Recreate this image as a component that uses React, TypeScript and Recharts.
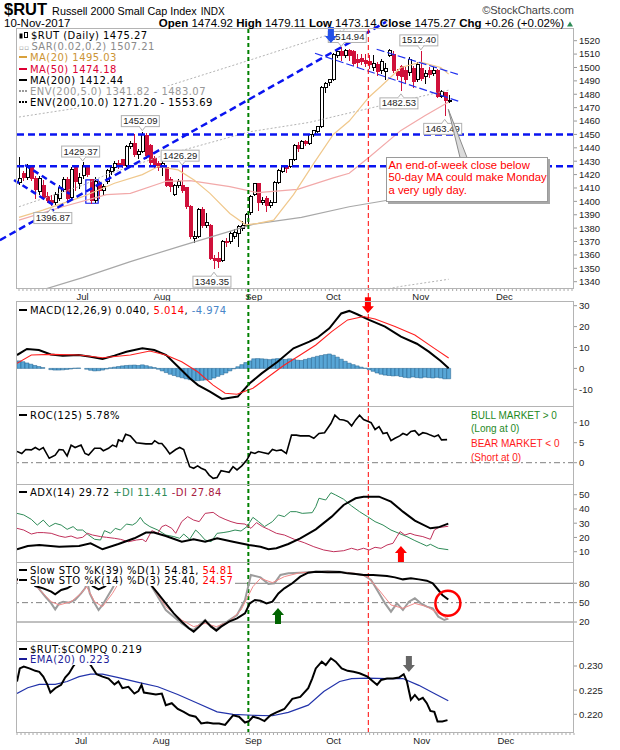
import React from 'react';
import {
  ComposedChart, Bar, Line, XAxis, YAxis,
  ReferenceLine, ReferenceDot, ReferenceArea,
} from 'recharts';

// bar index 0 = 3-Jul-2017; candles run from 9-Jun (-16) to 10-Nov (92),
// the axis keeps going into December
const FIRST_BAR = -16;
const LAST_SLOT = 123;
const monthStarts = [0, 20, 43, 63, 85, 106];
const monthNames = ['Jul', 'Aug', 'Sep', 'Oct', 'Nov', 'Dec'];

const opens = [
  1414, 1421, 1418, 1425, 1417, 1407, 1412, 1404, 1401, 1399,
  1402, 1409, 1416, 1403, 1425, 1413, 1419, 1426, 1416, 1401,
  1413, 1408, 1415, 1422, 1425, 1428, 1431, 1427, 1441, 1443,
  1435, 1437, 1449, 1442, 1432, 1428, 1425.5, 1425, 1416, 1405,
  1412, 1412, 1410, 1396, 1372, 1374, 1394, 1382, 1382, 1357,
  1357, 1356, 1370, 1370, 1374, 1376, 1380, 1382, 1392, 1405,
  1413, 1399.5, 1402, 1397, 1399, 1414, 1422, 1426, 1426, 1431,
  1441.4, 1439.6, 1444.6, 1443, 1449.6, 1452, 1455.8, 1485, 1488.5, 1490.7,
  1509.3, 1512, 1509.3, 1513, 1511.8, 1506, 1506.8, 1505, 1504.4, 1500,
  1502, 1498, 1497, 1509.3, 1510, 1497, 1500.6, 1498, 1496, 1499.4,
  1491, 1499.4, 1493, 1498, 1495.6, 1498, 1478.2, 1481.2, 1474.92,
];
const highs = [
  1433, 1423, 1428, 1427, 1419, 1419, 1416, 1407, 1405, 1407,
  1412, 1418, 1418, 1426, 1427, 1421, 1429.37, 1427, 1417, 1418,
  1415, 1413, 1424, 1427, 1430, 1431, 1432, 1442, 1445, 1450,
  1439, 1452.09, 1451, 1443, 1434, 1430, 1430, 1427, 1418, 1413,
  1417, 1426.29, 1411, 1397, 1378, 1395, 1396, 1391, 1383, 1360,
  1362, 1371, 1373, 1378, 1379, 1382, 1385, 1391, 1405, 1414,
  1414, 1403, 1404, 1401, 1415, 1424, 1427, 1427, 1432, 1443,
  1444, 1446, 1446, 1450, 1453, 1456.5, 1486, 1489, 1491, 1511,
  1512.5, 1514.94, 1514, 1514, 1513, 1510, 1510, 1510, 1509, 1509,
  1504, 1506, 1503, 1514, 1512, 1499, 1502, 1500, 1508, 1501,
  1504, 1512.4, 1498, 1500, 1500, 1499, 1483, 1482, 1479.11,
];
const lows = [
  1412, 1415, 1416, 1415, 1402, 1405, 1401, 1399, 1396.87, 1397,
  1400, 1407, 1400, 1402, 1408, 1409, 1417, 1418, 1398, 1399,
  1402, 1404, 1413, 1420, 1423, 1424, 1425, 1426, 1439, 1433,
  1432, 1436, 1432, 1427, 1425, 1423, 1419, 1411, 1407, 1404,
  1410, 1406, 1394, 1372, 1369, 1373, 1380, 1380, 1356, 1349.35,
  1350, 1355, 1366, 1368, 1372, 1366, 1378, 1381, 1390, 1404,
  1393, 1397, 1392, 1395, 1399, 1413, 1421, 1421, 1425, 1430,
  1437, 1439, 1441, 1442, 1448, 1451, 1455, 1481, 1486, 1490,
  1507, 1505, 1507, 1505, 1501, 1500, 1502, 1500, 1499, 1497,
  1494, 1495, 1491, 1508, 1496, 1491, 1482.53, 1488, 1494, 1485,
  1489, 1490, 1488, 1492, 1494, 1477, 1477, 1463.49, 1473.14,
];
const closes = [
  1417, 1418, 1425, 1417, 1409, 1417, 1403, 1401, 1399, 1405,
  1410, 1416, 1402, 1424, 1415, 1418, 1427, 1420, 1401, 1415,
  1408, 1411, 1423, 1425, 1428, 1426, 1427, 1441, 1443.5, 1435,
  1437, 1450, 1434, 1429, 1427, 1425, 1428, 1412, 1411, 1412,
  1415, 1408, 1396, 1374, 1374, 1394, 1382, 1384, 1357, 1356,
  1355, 1370, 1369, 1376, 1377, 1381, 1382, 1390, 1404, 1413,
  1399, 1401, 1397, 1399, 1414, 1423, 1426, 1424.5, 1431, 1442,
  1439.4, 1445, 1443, 1449.6, 1452.6, 1455.8, 1485, 1488, 1490.7, 1510,
  1511.8, 1509, 1512.6, 1509, 1503, 1504, 1504.4, 1503, 1501.9, 1503,
  1497, 1504.4, 1499.4, 1512.6, 1498, 1494, 1493, 1491, 1506, 1489.4,
  1502, 1492, 1495.6, 1494.4, 1498, 1478.2, 1482, 1475.01, 1475.27,
];
const macdHist = [
  3.6, 3.2, 2.6, 2.0, 1.4, 0.9, 0.4, 0.0, -0.6, -0.8,
  -0.8, -0.7, -0.5, -0.3, 0.1, 0.2, 0.0, -0.4, -0.9, -1.2,
  -1.1, -0.8, -0.3, 0.3, 0.6, 0.9, 1.2, 1.4, 1.5, 1.6,
  1.4, 1.7, 1.3, 0.8, 0.4, -0.4, -1.2, -2.0, -2.8, -3.4,
  -4.0, -4.5, -5.0, -5.4, -5.8, -5.9, -5.7, -5.5, -5.3, -4.6,
  -3.8, -3.0, -2.2, -1.2, -0.2, 0.8, 1.8, 2.8, 3.6, 4.6,
  4.7, 4.6, 4.4, 4.2, 4.5, 4.7, 4.4, 4.3, 4.6, 4.4,
  3.9, 3.8, 4.3, 4.8, 5.3, 5.8, 6.2, 6.6, 6.9, 6.3,
  5.4, 4.4, 3.4, 2.5, 1.8, 1.2, 0.6, 0.1, -0.6, -1.4,
  -2.2, -2.8, -3.2, -3.4, -3.6, -3.5, -3.9, -4.3, -4.5, -4.1,
  -4.4, -4.6, -4.2, -4.4, -4.6, -4.3, -4.6, -5.0, -4.974,
];

// overlays, as [bar, value]
const ma20 = [[-16, 1388], [-10, 1393.5], [0, 1403.5], [8, 1413.5], [15, 1420], [19, 1426], [24, 1423.5], [28, 1416], [32, 1406], [37, 1391], [41, 1382.5], [44, 1383.5], [48, 1386], [53, 1405], [58, 1428], [63, 1450], [67, 1460], [72, 1478], [75, 1486], [80, 1500], [85, 1504], [90, 1500], [92, 1495.03]];
const ma50 = [[-16, 1386], [-5, 1396], [6, 1405], [12, 1406], [21, 1415], [27, 1415.5], [37, 1411], [44, 1406.5], [54, 1409], [63, 1417.5], [67, 1421], [72, 1433], [80, 1453], [86, 1464], [92, 1474.18]];
const ma200 = [[-16, 1327], [-10, 1334], [0, 1343], [12, 1355], [25, 1367], [43, 1383], [55, 1388], [67, 1396], [77, 1401], [92, 1412.44]];
const env5Upper = [[-16, 1396], [0, 1412], [6, 1420], [20, 1434], [42, 1452], [57, 1459], [67, 1466], [80, 1475], [92, 1483.07]];
const env5Lower = [[70, 1331], [80, 1336.5], [92, 1341.82]];
const env10Upper = [[-16, 1463], [6, 1473], [18, 1483], [42, 1505.5], [66, 1528.4], [72, 1534]];
const sarLast = 1507.21;
const env10LowerLast = 1271.2;
const env10UpperLast = 1553.69;

const macdLine = [[-16.5, 6.4], [-14, 9.3], [-11, 8.8], [-8, 6.7], [-5, 6.1], [-1, 6.4], [2, 5.6], [5, 4.5], [8, 6.1], [11, 8.0], [15, 9.6], [18, 8.8], [21, 6.4], [24, 0.8], [27, -4.8], [29, -8.0], [32, -11.1], [35, -14.6], [39, -13.5], [42, -7.1], [45, -2.4], [49, 3.2], [53, 9.6], [57, 12.8], [59, 14.7], [62, 19.2], [65, 26.3], [67, 27.5], [69, 25.9], [72, 23.2], [76, 20.0], [80, 15.2], [84, 11.8], [87, 8.0], [90, 3.5], [92, 0.04]];
const macdSignal = [[-16.5, 2.4], [-12.9, 6.4], [-7.9, 6.7], [-0.9, 6.4], [5.0, 5.1], [12.0, 6.4], [16.9, 8.3], [20.9, 6.4], [24.9, 3.2], [28.9, -1.6], [32.8, -8.0], [35.8, -11.9], [38.8, -12.4], [42.8, -9.5], [46.7, -4.0], [50.7, 1.6], [54.7, 6.4], [58.6, 11.2], [62.6, 17.6], [66.6, 23.2], [70.6, 24.8], [73.5, 23.6], [78.5, 20.0], [83.5, 16.0], [88.4, 9.6], [92, 5.014]];

const roc = [[-16.5, 2.8], [-15.3, 2.3], [-14.3, 3.3], [-12.9, 3.2], [-11.9, 3.8], [-10.9, 3.2], [-9.9, 3.8], [-8.4, 1.1], [-6.9, 1.9], [-5.9, 3.3], [-4.9, 3.2], [-3.9, 1.7], [-2.9, 4.4], [-1.9, 3.8], [-0.4, 4.4], [0.6, 2.3], [1.5, 1.9], [3.0, 3.6], [4.5, 3.6], [5.2, 3.0], [6.5, 3.6], [7.5, 4.4], [8.5, 4.0], [9.0, 5.7], [10.0, 5.3], [10.8, 7.1], [12.0, 6.7], [13.5, 5.0], [15.9, 4.7], [17.4, 4.7], [18.1, 5.5], [19.1, 4.8], [19.9, 4.8], [20.9, 3.6], [21.9, 2.2], [23.4, 3.3], [24.4, 3.8], [25.4, 3.3], [26.9, -1.0], [27.9, -1.4], [28.9, -0.8], [29.8, -1.4], [30.8, -1.8], [31.8, -3.1], [32.8, -3.9], [33.8, -3.7], [34.8, -2.0], [35.8, -2.2], [36.8, -2.4], [37.8, -1.0], [38.8, -1.8], [40.0, -0.8], [41.3, 0.7], [42.3, 2.6], [43.3, 2.3], [44.2, 2.8], [45.5, 2.5], [46.7, 2.2], [47.7, 3.3], [48.7, 3.0], [49.9, 3.2], [51.2, 2.3], [52.5, 6.9], [53.7, 6.9], [54.7, 6.7], [55.9, 6.7], [56.9, 6.7], [58.1, 6.1], [59.4, 7.3], [60.8, 7.5], [62.4, 9.8], [63.4, 11.9], [64.6, 10.8], [65.6, 10.7], [66.6, 10.3], [67.6, 9.2], [68.6, 10.7], [69.6, 11.9], [70.6, 10.8], [71.8, 10.3], [72.5, 10.0], [73.5, 8.3], [74.5, 9.0], [75.5, 7.3], [76.5, 7.5], [77.5, 5.5], [78.5, 6.1], [79.7, 6.7], [80.5, 7.3], [81.5, 6.9], [82.5, 7.8], [83.5, 8.0], [84.5, 6.9], [85.5, 7.5], [86.5, 7.3], [87.4, 6.9], [88.4, 6.5], [89.4, 6.9], [90.2, 5.7], [91.6, 5.78]];

const adx = [[-16.5, 11.7], [-13.8, 14.0], [-10.9, 14.7], [-5.9, 13.5], [-0.9, 14.0], [2.0, 15.9], [5.0, 11.7], [9.0, 15.4], [13.0, 19.4], [15.9, 23.4], [17.9, 23.4], [20.9, 21.0], [24.9, 17.0], [27.9, 18.7], [30.8, 17.0], [33.8, 19.4], [37.8, 17.0], [41.8, 14.7], [44.7, 13.5], [46.7, 11.7], [48.7, 12.4], [51.7, 15.4], [54.7, 19.4], [58.6, 25.7], [62.6, 34.6], [65.6, 42.8], [68.6, 47.5], [70.6, 48.6], [74.5, 48.6], [77.5, 45.1], [80.5, 38.1], [83.5, 31.8], [87.4, 26.4], [89.4, 27.1], [91.9, 29.72]];
const plusDI = [[-16.5, 36.9], [-14.8, 35.8], [-12.9, 32.7], [-11.4, 28.7], [-9.9, 32.2], [-8.4, 27.6], [-6.9, 29.9], [-5.4, 28.7], [-3.9, 25.7], [-2.4, 27.6], [-1.4, 25.2], [0.0, 25.2], [1.5, 21.7], [3.0, 18.7], [4.5, 18.2], [5.5, 24.8], [7.0, 22.9], [8.2, 26.4], [9.5, 25.2], [11.0, 29.4], [12.5, 28.7], [13.5, 30.4], [14.5, 34.1], [15.4, 30.4], [16.9, 27.6], [18.9, 25.2], [20.9, 21.7], [22.9, 20.6], [24.4, 19.4], [25.4, 22.4], [26.9, 18.7], [28.4, 25.2], [29.3, 22.9], [30.8, 18.2], [32.3, 17.0], [33.8, 22.9], [35.3, 23.4], [36.8, 24.1], [38.3, 25.2], [39.8, 24.5], [41.3, 27.6], [42.8, 34.1], [44.2, 31.1], [45.7, 27.6], [47.7, 31.1], [49.2, 35.8], [50.7, 34.6], [52.2, 38.1], [53.7, 38.1], [55.2, 36.9], [57.7, 37.4], [58.6, 41.6], [59.4, 47.5], [61.1, 46.3], [62.4, 51.4], [63.6, 49.8], [65.6, 46.8], [67.6, 42.1], [69.6, 38.1], [71.6, 34.6], [73.5, 31.1], [75.5, 28.7], [77.5, 25.2], [79.5, 22.9], [81.5, 20.6], [83.5, 17.8], [85.0, 15.9], [86.5, 14.0], [87.4, 15.2], [89.4, 12.4], [91.9, 11.41]];
const minusDI = [[-16.5, 26.4], [-14.8, 25.2], [-12.9, 22.4], [-11.4, 23.4], [-9.9, 23.4], [-7.9, 22.9], [-5.9, 21.0], [-4.4, 20.1], [-2.9, 21.0], [-1.4, 19.4], [0.0, 20.1], [1.2, 22.9], [2.5, 21.7], [4.5, 20.6], [6.0, 20.1], [8.0, 19.4], [9.5, 18.7], [11.5, 17.0], [13.5, 18.2], [15.0, 18.7], [15.9, 17.0], [17.4, 24.8], [18.9, 22.9], [19.9, 27.6], [20.9, 28.7], [22.4, 26.4], [23.4, 22.9], [24.9, 31.1], [26.4, 34.6], [27.9, 32.2], [29.3, 31.1], [30.8, 36.9], [32.8, 37.6], [34.3, 34.6], [35.8, 32.7], [37.3, 31.1], [38.8, 29.9], [40.8, 29.4], [42.3, 26.4], [43.7, 30.4], [45.2, 27.6], [46.7, 25.7], [48.7, 22.9], [50.7, 21.7], [53.2, 18.7], [55.7, 16.3], [58.1, 13.5], [60.6, 11.2], [63.1, 10.0], [65.6, 10.7], [67.6, 12.4], [69.1, 11.2], [70.6, 12.4], [72.0, 11.2], [73.5, 13.1], [75.0, 12.4], [76.5, 14.7], [78.0, 15.9], [79.0, 20.6], [79.8, 24.1], [81.0, 21.7], [82.3, 22.9], [83.5, 21.7], [85.5, 20.6], [87.4, 18.7], [88.4, 25.2], [89.4, 26.9], [91.9, 27.84]];

const stoK39 = [[-16.5, 86], [-14, 88], [-12.5, 80], [-11.9, 75.8], [-9.9, 72.2], [-7.9, 67.0], [-6.9, 62.9], [-5.4, 69.6], [-3.9, 72.2], [-2.9, 75.8], [-1.9, 80], [-1, 86], [1.5, 86], [2.5, 75.8], [4.0, 70.6], [5.5, 74.8], [6.5, 80], [7.5, 88], [10, 92], [13, 94], [16, 88], [17.4, 75.8], [18.9, 64.4], [20.9, 48.9], [22.9, 33.4], [24.9, 20.5], [26.7, 10.2], [27.9, 5.0], [29.3, 12.8], [30.8, 22.1], [32.3, 12.8], [33.6, 6.6], [34.8, 12.8], [36.8, 20.5], [38.8, 25.7], [40.8, 33.4], [42.0, 48.9], [43.3, 54.1], [44.7, 53.1], [46.2, 48.9], [47.7, 51.5], [49.2, 64.4], [50.7, 72.2], [52.7, 80.0], [54.7, 90.3], [56.7, 96.5], [58.6, 98.0], [61.6, 97.0], [64.6, 97.5], [66.6, 95.4], [68.6, 94.4], [70.6, 92.9], [73.0, 92.9], [76.5, 91.3], [78.5, 89.2], [80.5, 86.1], [82.5, 87.7], [84.5, 86.1], [86.5, 84.1], [88.0, 79.9], [89.4, 69.6], [90.4, 61.9], [91.9, 54.81]];
const stoK14 = [[-16.5, 85], [-13, 84], [-11.4, 74.8], [-9.4, 59.3], [-7.9, 48.9], [-6.9, 39.6], [-5.9, 48.9], [-4.9, 51.5], [-3.4, 50.0], [-1.9, 54.1], [-0.4, 64.4], [0.6, 72.2], [1.2, 82], [1.8, 64.4], [3.0, 48.9], [4.0, 38.6], [5.0, 46.4], [6.0, 56.7], [7.5, 72.2], [8.5, 85], [11, 92], [14, 95], [16.5, 86], [17.4, 74.8], [18.9, 59.3], [20.9, 38.6], [22.9, 28.3], [24.9, 17.9], [26.7, 10.2], [27.9, 7.6], [29.3, 15.3], [30.8, 23.1], [32.3, 12.8], [33.6, 8.6], [34.8, 15.3], [36.3, 20.5], [38.8, 30.9], [40.8, 54.1], [42.3, 92.9], [44.7, 89.2], [46.7, 78.9], [48.2, 79.9], [49.7, 92.9], [51.7, 95.4], [54.7, 96.5], [58.6, 98.0], [61.6, 99.1], [64.6, 98.0], [67.6, 95.4], [70.6, 92.9], [72.5, 85.1], [74.5, 64.4], [76.0, 48.9], [77.5, 36.0], [79.0, 48.9], [80.5, 38.6], [82.0, 51.5], [83.5, 56.7], [85.0, 48.9], [86.5, 43.8], [88.0, 41.2], [89.4, 28.3], [90.9, 23.1], [91.9, 25.4]];
const stoD3 = [[-16.5, 84], [-13, 82], [-11.4, 73.7], [-7.9, 51.5], [-5.9, 46.4], [-2.9, 51.5], [-0.4, 64.4], [1.0, 74.8], [3.0, 51.5], [5.0, 43.8], [7.5, 64.4], [9.0, 80], [12, 90], [15, 92], [17.4, 75.8], [20.9, 43.8], [24.9, 23.1], [27.9, 12.8], [30.8, 17.9], [33.6, 12.8], [36.8, 20.5], [39.8, 38.6], [42.8, 74.8], [44.7, 87.7], [47.7, 81.0], [50.7, 90.3], [54.7, 96.5], [61.6, 98.0], [68.6, 95.4], [71.6, 90.3], [74.5, 69.6], [77.5, 46.4], [80.5, 41.2], [83.5, 48.9], [86.5, 43.8], [89.4, 33.4], [91.9, 24.57]];

const ratio = [[-16.5, 0.2268], [-15.8, 0.2295], [-14.8, 0.2299], [-13.4, 0.2295], [-11.9, 0.2290], [-10.9, 0.2288], [-9.9, 0.2278], [-8.9, 0.2262], [-8.1, 0.2245], [-6.9, 0.2254], [-5.4, 0.2261], [-4.4, 0.2276], [-3.4, 0.2285], [-2.4, 0.2299], [-0.9, 0.2315], [0.55, 0.2315], [2.0, 0.2302], [3.5, 0.2283], [5.0, 0.2278], [6.5, 0.2274], [8.0, 0.2262], [9.0, 0.2268], [10.0, 0.2254], [11.5, 0.2257], [13.0, 0.2243], [14.0, 0.2248], [14.8, 0.2261], [15.4, 0.2245], [16.9, 0.2243], [18.4, 0.2241], [19.9, 0.2243], [20.9, 0.2219], [22.4, 0.2223], [23.9, 0.2211], [25.4, 0.2205], [26.9, 0.2198], [28.4, 0.2195], [29.8, 0.2181], [31.3, 0.2183], [32.8, 0.2181], [34.3, 0.2181], [35.8, 0.2178], [37.8, 0.2198], [39.3, 0.2195], [40.8, 0.2183], [41.8, 0.2186], [42.8, 0.2195], [44.2, 0.2192], [45.7, 0.2186], [47.2, 0.2198], [48.7, 0.2204], [50.7, 0.2211], [52.7, 0.2232], [54.7, 0.2236], [56.7, 0.2254], [57.7, 0.2274], [58.6, 0.2295], [60.1, 0.2309], [61.1, 0.2302], [62.4, 0.2316], [63.6, 0.2309], [65.1, 0.2295], [66.6, 0.2290], [68.1, 0.2288], [69.6, 0.2285], [71.6, 0.2278], [73.0, 0.2268], [74.0, 0.2261], [75.0, 0.2271], [76.5, 0.2274], [78.0, 0.2274], [79.5, 0.2276], [80.7, 0.2283], [81.5, 0.2268], [82.5, 0.2230], [83.5, 0.2240], [84.5, 0.2230], [85.5, 0.2234], [86.5, 0.2223], [87.4, 0.2207], [88.4, 0.2205], [89.2, 0.2185], [90.4, 0.2185], [91.7, 0.2188]];
const ratioEma = [[-16.5, 0.2243], [-13.8, 0.2255], [-10.9, 0.2262], [-6.9, 0.2262], [-3.9, 0.2268], [-0.9, 0.2278], [2.0, 0.2283], [5.0, 0.2283], [9.0, 0.2276], [14.0, 0.2266], [18.9, 0.2257], [23.9, 0.2241], [28.9, 0.2223], [33.8, 0.2205], [37.8, 0.2200], [42.8, 0.2198], [47.7, 0.2197], [51.7, 0.2204], [56.7, 0.2219], [60.6, 0.2247], [64.6, 0.2268], [67.6, 0.2274], [71.6, 0.2275], [76.5, 0.2274], [80.5, 0.2274], [84.5, 0.2260], [88.4, 0.2243], [91.9, 0.2228]];

// chart annotations, in bar / price units
const peakTags = [[0, 1429.37], [15, 1452.09], [25, 1426.29], [65, 1514.94], [85, 1512.4]];
const troughTags = [[-8, 1396.87], [33, 1349.35], [80, 1482.53], [91, 1463.49]];
const levels = [1450, 1426.29];
const riseTrend = [[-20.8, 1371], [76.25, 1534]];
const juneChannel = [[[-14.5, 1427.2], [-3.2, 1405.5]], [[-17.25, 1416], [-6.95, 1396.6]]];
const octChannel = [[[73.9, 1513.6], [94.85, 1494.4]], [[58.4, 1510.6], [94.85, 1474.4]]];
const pullbackBox = [[0.8, 1398.6], [3.9, 1416]];
const sepLine = 41.65;
const octLine = 71.8;
const topArrow = [62.4, 1518.3];
const macdArrow = [71.7, 26.4];
const adxArrow = [80.0, 14.0];
const stoArrow = [49.1, 41.7];
const stoCircle = [91.8, 49];
const ratioArrow = [82.0, 0.22876];

// ---------------------------------------------------------------------
const rows: any[] = [];
for (let i = FIRST_BAR; i <= LAST_SLOT; i++) {
  const k = i - FIRST_BAR;
  const has = k < closes.length;
  rows.push({
    i,
    o: has ? opens[k] : null, h: has ? highs[k] : null,
    l: has ? lows[k] : null, c: has ? closes[k] : null,
    hist: has ? macdHist[k] : null,
  });
}
const last = (a: number[][]) => a[a.length - 1][1];
const pts = (a: number[][]) => a.map(([x, v]) => ({ x, v }));

const AXIS_FONT = '"Liberation Sans", Arial, sans-serif';
const LEG_FONT = '"DejaVu Sans", Verdana, sans-serif';
const RED = '#d0103a';
const BLUE = '#0a14f0';

function Candle(props: any) {
  const { x, y, width, height, payload } = props;
  if (!payload || payload.h == null) return null;
  const { o, h, l, c } = payload;
  const ppu = h > l ? height / (h - l) : 0;
  const cx = Math.round(x + width / 2);
  const yO = y + (h - o) * ppu;
  const yC = y + (h - c) * ppu;
  const up = c >= o;
  const col = up ? '#000' : RED;
  return (
    <g shapeRendering="crispEdges">
      <line x1={cx + 0.5} x2={cx + 0.5} y1={y} y2={y + height} stroke={col} />
      <rect x={cx - 1} y={Math.min(yO, yC)} width={3} height={Math.max(Math.abs(yC - yO), 1)} fill={up ? '#fff' : col} stroke={col} />
    </g>
  );
}

function PriceTag({ cx, cy, value, below, dx }: any) {
  const w = 38, hh = 11;
  const bx = cx + dx - w / 2;
  const by = below ? cy + 7 : cy - 5 - hh;
  const ny = below ? by : by + hh;
  const d = below ? -4 : 4;
  return (
    <g>
      <rect x={bx} y={by} width={w} height={hh} fill="#fff" stroke="#b0b0b0" />
      <path d={`M${cx - 3},${ny} L${cx},${ny + d} L${cx + 3},${ny}`} fill="#fff" stroke="#b0b0b0" />
      <line x1={cx - 2.4} x2={cx + 2.4} y1={ny} y2={ny} stroke="#fff" strokeWidth={1.2} />
      <text x={bx + w / 2} y={by + 8.6} textAnchor="middle" fontSize={9.5} fontFamily={AXIS_FONT} fill="#222">{value.toFixed(2)}</text>
    </g>
  );
}

function Arrow({ cx, cy, down, color }: any) {
  const s = down ? -1 : 1;
  const p = [[cx, cy], [cx - 6, cy + 7 * s], [cx - 3, cy + 7 * s], [cx - 3, cy + 16 * s], [cx + 3, cy + 16 * s], [cx + 3, cy + 7 * s], [cx + 6, cy + 7 * s]];
  return <polygon points={p.map((q) => q.join(',')).join(' ')} fill={color} />;
}

function MonthTick(props: any) {
  const { x, y, payload } = props;
  const k = monthStarts.indexOf(payload.value);
  if (k < 0) return <g />;
  return <text x={x} y={y + 7} textAnchor="middle" fontSize={9.5} fontFamily={AXIS_FONT} fill="#222">{monthNames[k]}</text>;
}

const series = (key: string, d: number[][], color: string, w = 1, extra: any = {}) => (
  <Line key={key} xAxisId="num" data={pts(d)} dataKey="v" stroke={color} strokeWidth={w} dot={false} activeDot={false} isAnimationActive={false} {...extra} />
);

const markers = (lo?: number, hi?: number) => (lo == null ? [
  <ReferenceLine key="sep" xAxisId="num" x={sepLine} stroke="#008000" strokeWidth={2} strokeDasharray="4 3" />,
  <ReferenceLine key="oct" xAxisId="num" x={octLine} stroke="#ff0000" strokeWidth={1} strokeDasharray="5 3" />,
] : [
  <ReferenceLine key="sep" xAxisId="num" segment={[{ x: sepLine, y: hi }, { x: sepLine, y: lo }]} ifOverflow="visible" stroke="#008000" strokeWidth={2} strokeDasharray="4 3" />,
  <ReferenceLine key="oct" xAxisId="num" segment={[{ x: octLine, y: hi }, { x: octLine, y: lo }]} ifOverflow="visible" stroke="#ff0000" strokeWidth={1} strokeDasharray="5 3" />,
]);

function Panel({ top, mt, plotH, bottomAxis, domain, ticks, fmt, children }: any) {
  const h = mt + plotH + (bottomAxis ? 16 : 0);
  return (
    <div style={{ position: 'absolute', left: 0, top }}>
      <ComposedChart width={620} height={h} data={rows} margin={{ top: mt, right: 0, bottom: 0, left: 17 }} barCategoryGap={0} barGap={0}>
        <XAxis xAxisId="cat" dataKey="i" type="category" hide={!bottomAxis} interval={0} axisLine={false}
          tickSize={2} tickLine={{ stroke: '#aaa' }} tick={<MonthTick />} height={16} />
        <XAxis xAxisId="num" dataKey="x" type="number" domain={[-16.5, 123.5]} allowDataOverflow hide />
        <YAxis orientation="right" width={46} domain={domain} ticks={ticks} allowDataOverflow interval={0}
          axisLine={false} tickSize={3} tickLine={{ stroke: '#999' }} tickFormatter={fmt}
          tick={{ fontSize: 9.5, fill: '#222', fontFamily: AXIS_FONT }} />
        {children}
      </ComposedChart>
    </div>
  );
}

const dash = (color: string, dotted = false) => (
  <span style={{ display: 'inline-block', width: 8, height: 0, borderTop: `2px ${dotted ? 'dotted' : 'solid'} ${color}`, verticalAlign: 'middle', margin: '0 3px 2px 1px' }} />
);

function Legend({ y, children }: any) {
  return (
    <div style={{ position: 'absolute', left: 18, top: y - 5.5, height: 11, lineHeight: '11px', fontFamily: LEG_FONT, fontSize: 10, letterSpacing: 0.45, background: '#fff', whiteSpace: 'nowrap', paddingRight: 2, color: '#000' }}>
      {children}
    </div>
  );
}

export default function App() {
  const n = closes.length - 1;
  const chg = closes[n] - closes[n - 1];
  const pct = (chg / closes[n - 1]) * 100;
  const tagNudge: Record<number, number> = { 65: 6, [-8]: 2 };
  const panels = [[29, 289], [302, 407], [407, 485], [485, 563], [563, 642], [642, 733]];

  return (
    <div style={{ position: 'absolute', left: 0, top: 0, width: 620, height: 750, background: '#fff', overflow: 'hidden' }}>
      {/* price panel */}
      <Panel top={0} mt={29} plotH={260} bottomAxis domain={[1334.55, 1528.74]}
        ticks={[1340, 1350, 1360, 1370, 1380, 1390, 1400, 1410, 1420, 1430, 1440, 1450, 1460, 1470, 1480, 1490, 1500, 1510, 1520]}>
        {series('env10', env10Upper, '#b4b4b4', 1, { strokeDasharray: '2 2' })}
        {series('env5u', env5Upper, '#b4b4b4', 1, { strokeDasharray: '2 2' })}
        {series('env5l', env5Lower, '#b4b4b4', 1, { strokeDasharray: '2 2' })}
        {series('ma200', ma200, '#a8a8a8', 1.2)}
        {series('ma50', ma50, '#f2a9a9', 1.2)}
        {series('ma20', ma20, '#f0c88c', 1.2)}
        <Bar xAxisId="cat" dataKey={(d: any) => (d.h == null ? null : [d.l, d.h])} shape={<Candle />} isAnimationActive={false} />
        {levels.map((v) => (
          <ReferenceLine key={v} xAxisId="num" y={v} stroke={BLUE} strokeWidth={2.5} strokeDasharray="7 4" />
        ))}
        <ReferenceLine xAxisId="num" segment={riseTrend.map(([x, y]) => ({ x, y }))} ifOverflow="visible" stroke={BLUE} strokeWidth={2.5} strokeDasharray="7 4" />
        {juneChannel.map((s, k) => (
          <ReferenceLine key={'j' + k} xAxisId="num" segment={s.map(([x, y]) => ({ x, y }))} ifOverflow="visible" stroke={BLUE} strokeWidth={2.5} strokeDasharray="6 4" />
        ))}
        {octChannel.map((s, k) => (
          <ReferenceLine key={'o' + k} xAxisId="num" segment={s.map(([x, y]) => ({ x, y }))} ifOverflow="visible" stroke="#2030f0" strokeWidth={1.2} strokeDasharray="8 3" />
        ))}
        <ReferenceArea xAxisId="num" x1={pullbackBox[0][0]} x2={pullbackBox[1][0]} y1={pullbackBox[0][1]} y2={pullbackBox[1][1]} fill="none" fillOpacity={0} stroke={BLUE} strokeWidth={1.2} />
        {markers(1324.85, 1528.74)}
        {peakTags.map(([i, p]) => (
          <ReferenceDot key={'p' + i} xAxisId="num" x={i} y={p} r={0} ifOverflow="visible"
            shape={(q: any) => <PriceTag cx={q.cx} cy={q.cy} value={p} dx={tagNudge[i] ?? -2} />} />
        ))}
        {troughTags.map(([i, p]) => (
          <ReferenceDot key={'t' + i} xAxisId="num" x={i} y={p} r={0} ifOverflow="visible"
            shape={(q: any) => <PriceTag cx={q.cx} cy={q.cy} value={p} below dx={tagNudge[i] ?? -2} />} />
        ))}
        <ReferenceDot xAxisId="num" x={topArrow[0]} y={topArrow[1]} r={0} ifOverflow="visible"
          shape={(q: any) => <Arrow cx={q.cx} cy={q.cy} down color="#2450e8" />} />
      </Panel>

      {/* MACD */}
      <Panel top={290} mt={12} plotH={105} domain={[-18.47, 31.77]} ticks={[-10, 0, 10, 20, 30]}>
        <Bar xAxisId="cat" dataKey="hist" fill="#58a6d6" stroke="#1f5f8c" strokeWidth={0.5} isAnimationActive={false} />
        {series('macd', macdLine, '#000', 2)}
        {series('sig', macdSignal, '#ff2020', 1.1)}
        {markers()}
        <ReferenceDot xAxisId="num" x={macdArrow[0]} y={macdArrow[1]} r={0} ifOverflow="visible"
          shape={(q: any) => <Arrow cx={q.cx} cy={q.cy} down color="#ff0000" />} />
      </Panel>

      {/* ROC */}
      <Panel top={395} mt={12} plotH={78} domain={[-5.58, 13.93]} ticks={[0, 5, 10]}>
        <ReferenceLine xAxisId="num" y={0} stroke="#808080" strokeDasharray="6 3 2 3" />
        {markers()}
        {series('roc', roc, '#000', 1.6)}
      </Panel>

      {/* ADX */}
      <Panel top={473} mt={12} plotH={78} domain={[2.07, 56.81]} ticks={[10, 20, 30, 40, 50]}>
        {markers()}
        {series('pdi', plusDI, '#2e8b57', 1)}
        {series('mdi', minusDI, '#c0305a', 1)}
        {series('adx', adx, '#000', 2)}
        <ReferenceDot xAxisId="num" x={adxArrow[0]} y={adxArrow[1]} r={0} ifOverflow="visible"
          shape={(q: any) => <Arrow cx={q.cx} cy={q.cy} color="#ff0000" />} />
      </Panel>

      {/* Slow stochastics */}
      <Panel top={551} mt={12} plotH={79} domain={[-11, 111.47]} ticks={[20, 50, 80]}>
        <ReferenceLine xAxisId="num" y={80} stroke="#808080" />
        <ReferenceLine xAxisId="num" y={20} stroke="#808080" />
        <ReferenceLine xAxisId="num" y={50} stroke="#808080" strokeDasharray="6 3 2 3" />
        {markers()}
        {series('k14', stoK14, '#9c9c9c', 2)}
        {series('d3', stoD3, '#f08a8a', 1)}
        {series('k39', stoK39, '#000', 2)}
        <ReferenceDot xAxisId="num" x={stoArrow[0]} y={stoArrow[1]} r={0} ifOverflow="visible"
          shape={(q: any) => <Arrow cx={q.cx} cy={q.cy} color="#006400" />} />
        <ReferenceDot xAxisId="num" x={stoCircle[0]} y={stoCircle[1]} r={12.5} fill="none" stroke="#ff0000" strokeWidth={2.5} ifOverflow="visible" />
      </Panel>

      {/* RUT:COMPQ */}
      <Panel top={630} mt={12} plotH={91} bottomAxis domain={[0.21613, 0.23497]} ticks={[0.22, 0.225, 0.23]} fmt={(v: number) => v.toFixed(3)}>
        {markers()}
        {series('ema', ratioEma, '#2233aa', 1.2)}
        {series('ratio', ratio, '#000', 2)}
        <ReferenceDot xAxisId="num" x={ratioArrow[0]} y={ratioArrow[1]} r={0} ifOverflow="visible"
          shape={(q: any) => <Arrow cx={q.cx} cy={q.cy} down color="#666" />} />
      </Panel>

      {/* frames, header, notes */}
      <svg width={620} height={750} style={{ position: 'absolute', left: 0, top: 0, pointerEvents: 'none' }}>
        {panels.map(([a, b]) => (
          <rect key={a} x={16.5} y={a - 0.5} width={557} height={b - a} fill="none" stroke="#b4b4b4" shapeRendering="crispEdges" />
        ))}
        <text x={4} y={15} fontFamily={AXIS_FONT} fill="#000">
          <tspan fontWeight="bold" fontSize={16.5}>$RUT</tspan>
          <tspan fontSize={10.8} dx={5}>Russell 2000 Small Cap Index</tspan>
          <tspan fontSize={10} dx={4}>INDX</tspan>
        </text>
        <text x={574} y={14} textAnchor="end" fontSize={11} fontFamily={AXIS_FONT} fill="#444">©StockCharts.com</text>
        <text x={4} y={26.5} fontSize={11.5} fontFamily={AXIS_FONT} fill="#000">10-Nov-2017</text>
        <text x={564} y={26.5} textAnchor="end" fontSize={11.5} fontFamily={AXIS_FONT} fill="#000" style={{ whiteSpace: 'pre' }}>
          <tspan fontWeight="bold">Open</tspan><tspan>{` ${opens[n].toFixed(2)} `}</tspan>
          <tspan fontWeight="bold">High</tspan><tspan>{` ${highs[n].toFixed(2)} `}</tspan>
          <tspan fontWeight="bold">Low</tspan><tspan>{` ${lows[n].toFixed(2)} `}</tspan>
          <tspan fontWeight="bold">Close</tspan><tspan>{` ${closes[n].toFixed(2)} `}</tspan>
          <tspan fontWeight="bold">Chg</tspan><tspan>{` ${chg >= 0 ? '+' : ''}${chg.toFixed(2)} (${pct >= 0 ? '+' : ''}${pct.toFixed(2)}%)`}</tspan>
        </text>
        <polygon points="567,26.5 573,26.5 570,21.5" fill="#2e8b57" />
        <polygon points="448.3,109.3 460,157.5 467,157.5" fill="#dcdcdc" stroke="#8a8a8a" strokeWidth={1} />
        <g fontFamily={AXIS_FONT} fontSize={10}>
          <text x={471} y={418.5} fill="#1f8a1f">BULL MARKET &gt; 0</text>
          <text x={471} y={432} fill="#1f8a1f">(Long at 0)</text>
          <text x={471} y={447} fill="#ff1a1a">BEAR MARKET &lt; 0</text>
          <text x={471} y={460.5} fill="#ff1a1a">(Short at 0)</text>
        </g>
      </svg>

      <div style={{ position: 'absolute', left: 386, top: 157, width: 158, height: 42, border: '1px solid #9a9a9a', boxShadow: '2px 2px 0 #a8a8a8', background: '#fff', color: '#ff0000', fontFamily: AXIS_FONT, fontSize: 11.3, lineHeight: '12.3px', padding: '1.2px 0 0 1.5px', boxSizing: 'content-box', whiteSpace: 'nowrap', overflow: 'hidden' }}>
        An end-of-week close below<br />50-day MA could make Monday<br />a very ugly day.
      </div>

      {/* legends */}
      <Legend y={35.5}>
        <svg width={9} height={9} style={{ verticalAlign: 'middle', margin: '0 3px 2px 1px' }}>
          <rect x={0.5} y={2.5} width={3} height={5} fill="#000" />
          <rect x={5.5} y={1.5} width={3} height={5} fill="#fff" stroke="#000" />
        </svg>
        $RUT (Daily) {closes[n].toFixed(2)}
      </Legend>
      <Legend y={46.6}>
        <span style={{ color: '#999', margin: '0 2px 0 1px', fontSize: 7 }}>▫▫</span>
        <span style={{ color: '#8a8a8a' }}>SAR(0.02,0.2) {sarLast.toFixed(2)}</span>
      </Legend>
      <Legend y={57.8}>{dash('#d9a13c')}<span style={{ color: '#cc9433' }}>MA(20) {last(ma20).toFixed(2)}</span></Legend>
      <Legend y={69}>{dash('#dd0033')}<span style={{ color: '#dd0033' }}>MA(50) {last(ma50).toFixed(2)}</span></Legend>
      <Legend y={80.2}>{dash('#000')}MA(200) {last(ma200).toFixed(2)}</Legend>
      <Legend y={91.2}>{dash('#999', true)}<span style={{ color: '#999' }}>ENV(200,5.0) {last(env5Lower).toFixed(2)} - {last(env5Upper).toFixed(2)}</span></Legend>
      <Legend y={102.2}>{dash('#000', true)}ENV(200,10.0) {env10LowerLast.toFixed(2)} - {env10UpperLast.toFixed(2)}</Legend>

      <Legend y={310}>{dash('#000')}MACD(12,26,9) {last(macdLine).toFixed(3)}, <span style={{ color: '#ff0000' }}>{last(macdSignal).toFixed(3)}</span>, <span style={{ color: '#4a86c8' }}>{macdHist[n].toFixed(3)}</span></Legend>
      <Legend y={415}>{dash('#000')}ROC(125) {last(roc).toFixed(2)}%</Legend>
      <Legend y={492.7}>{dash('#000')}ADX(14) {last(adx).toFixed(2)} <span style={{ color: '#2e8b57' }}>+DI {last(plusDI).toFixed(2)}</span> <span style={{ color: '#a8203f' }}>-DI {last(minusDI).toFixed(2)}</span></Legend>
      <Legend y={570}>{dash('#000')}Slow STO %K(39) %D(1) {last(stoK39).toFixed(2)}, <span style={{ color: '#ff0000' }}>{last(stoK39).toFixed(2)}</span></Legend>
      <Legend y={580.8}>{dash('#000')}Slow STO %K(14) %D(3) {last(stoK14).toFixed(2)}, <span style={{ color: '#ff0000' }}>{last(stoD3).toFixed(2)}</span></Legend>
      <Legend y={649}>{dash('#000')}$RUT:$COMPQ {last(ratio).toFixed(3)}</Legend>
      <Legend y={659.6}>{dash('#1c1c99')}<span style={{ color: '#1c1c99' }}>EMA(20) {last(ratioEma).toFixed(3)}</span></Legend>
    </div>
  );
}
